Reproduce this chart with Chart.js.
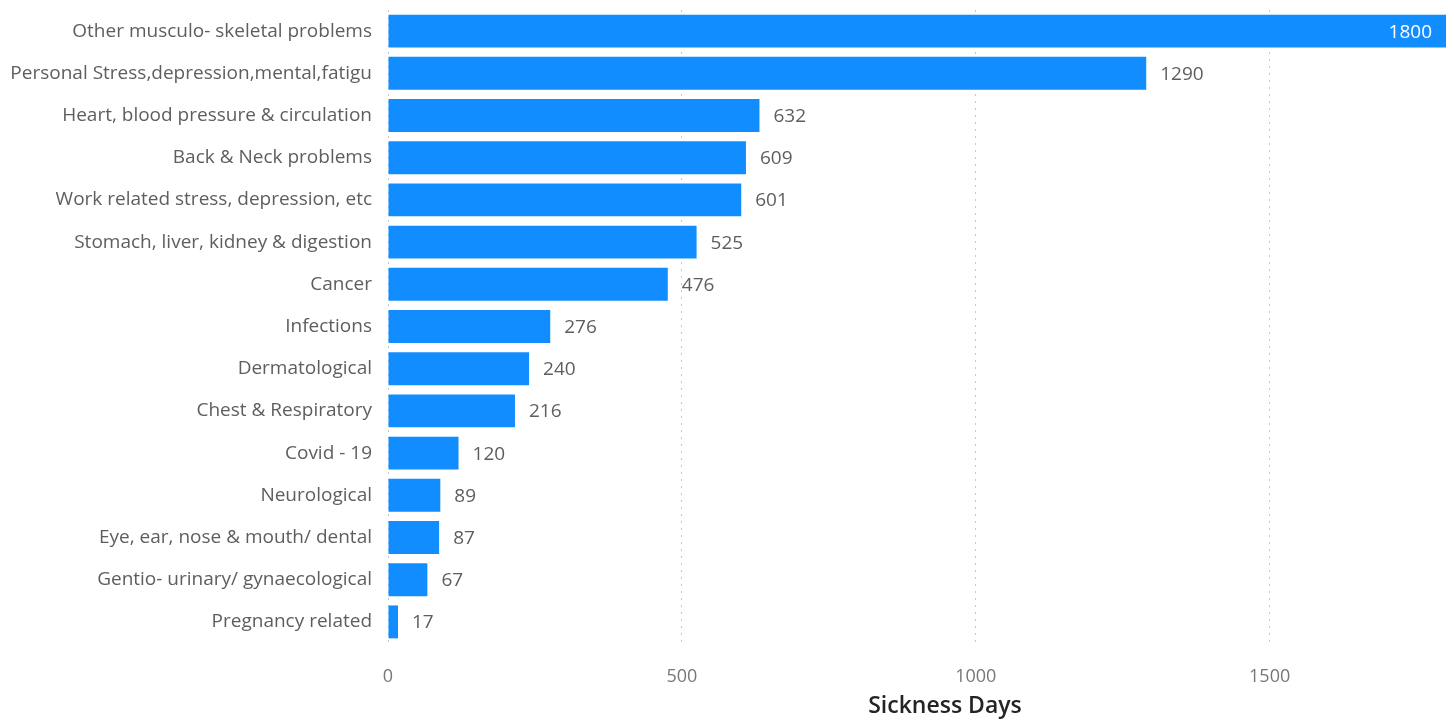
<!DOCTYPE html>
<html>
<head>
<meta charset="utf-8">
<script src="https://cdn.jsdelivr.net/npm/chart.js@4"></script>
<style>
  html, body { margin: 0; padding: 0; background: #fff; }
  #wrap { width: 1454px; height: 720px; position: relative; }
</style>
</head>
<body>
<div id="wrap"><canvas id="chart"></canvas></div>
<script>
/* sickness days by cause */
const categories = [
  "Other musculo- skeletal problems",
  "Personal Stress,depression,mental,fatigu",
  "Heart, blood pressure & circulation",
  "Back & Neck problems",
  "Work related stress, depression, etc",
  "Stomach, liver, kidney & digestion",
  "Cancer",
  "Infections",
  "Dermatological",
  "Chest & Respiratory",
  "Covid - 19",
  "Neurological",
  "Eye, ear, nose & mouth/ dental",
  "Gentio- urinary/ gynaecological",
  "Pregnancy related"
];
const sicknessDays = [1800, 1290, 632, 609, 601, 525, 476, 276, 240, 216, 120, 89, 87, 67, 17];
const xTicks = [0, 500, 1000, 1500];
const xTitle = "Sickness Days";

const FONT = "'Open Sans', 'Noto Sans', sans-serif";

// value labels at the bar ends (white inside when it doesn't fit) + axis title
const barLabels = {
  id: "barLabels",
  afterDatasetsDraw(chart) {
    const ctx = chart.ctx;
    const area = chart.chartArea;
    const meta = chart.getDatasetMeta(0);
    ctx.save();
    ctx.font = "19px " + FONT;
    ctx.textBaseline = "middle";
    meta.data.forEach((bar, i) => {
      const txt = String(sicknessDays[i]);
      const w = ctx.measureText(txt).width;
      if (bar.x + 14 + w > area.right) {
        ctx.fillStyle = "#ffffff";
        ctx.textAlign = "right";
        ctx.fillText(txt, bar.x - 14, bar.y + 1);
      } else {
        ctx.fillStyle = "#605e5c";
        ctx.textAlign = "left";
        ctx.fillText(txt, bar.x + 14, bar.y + 1);
      }
    });

    // x title, a bit right of the plot centre like the original
    const xs = chart.scales.x;
    ctx.font = "600 23px " + FONT;
    ctx.fillStyle = "#252423";
    ctx.textAlign = "center";
    ctx.fillText(xTitle, (xs.left + xs.right) / 2 + 28, xs.bottom - 14);
    ctx.restore();
  }
};

new Chart(document.getElementById("chart"), {
  type: "bar",
  data: {
    labels: categories,
    datasets: [{
      data: sicknessDays,
      backgroundColor: "#118DFF",
      borderWidth: 0,
      barPercentage: 0.78,
      categoryPercentage: 1.0
    }]
  },
  options: {
    indexAxis: "y",
    responsive: true,
    maintainAspectRatio: false,
    animation: false,
    layout: { padding: { top: 10, right: 8, left: 0, bottom: 0 } },
    plugins: { legend: { display: false }, tooltip: { enabled: false } },
    scales: {
      x: {
        min: 0, max: 1800,
        afterBuildTicks: s => { s.ticks = xTicks.map(v => ({ value: v })); },
        grid: { color: "#c8c8c8", lineWidth: 1, drawTicks: false },
        border: { display: false, dash: [2, 5] },
        ticks: { color: "#777777", font: { family: FONT, size: 18 }, padding: 23, callback: v => String(v) },
        afterFit: s => { s.height = 77; s.paddingLeft = 0; s.paddingRight = 0; }
      },
      y: {
        grid: { display: false, drawTicks: false },
        border: { display: false },
        ticks: { color: "#605e5c", font: { family: FONT, size: 19 }, padding: 16, autoSkip: false },
        afterFit: s => { s.width = 388; s.paddingTop = 0; s.paddingBottom = 0; }
      }
    }
  },
  plugins: [barLabels]
});
</script>
</body>
</html>
